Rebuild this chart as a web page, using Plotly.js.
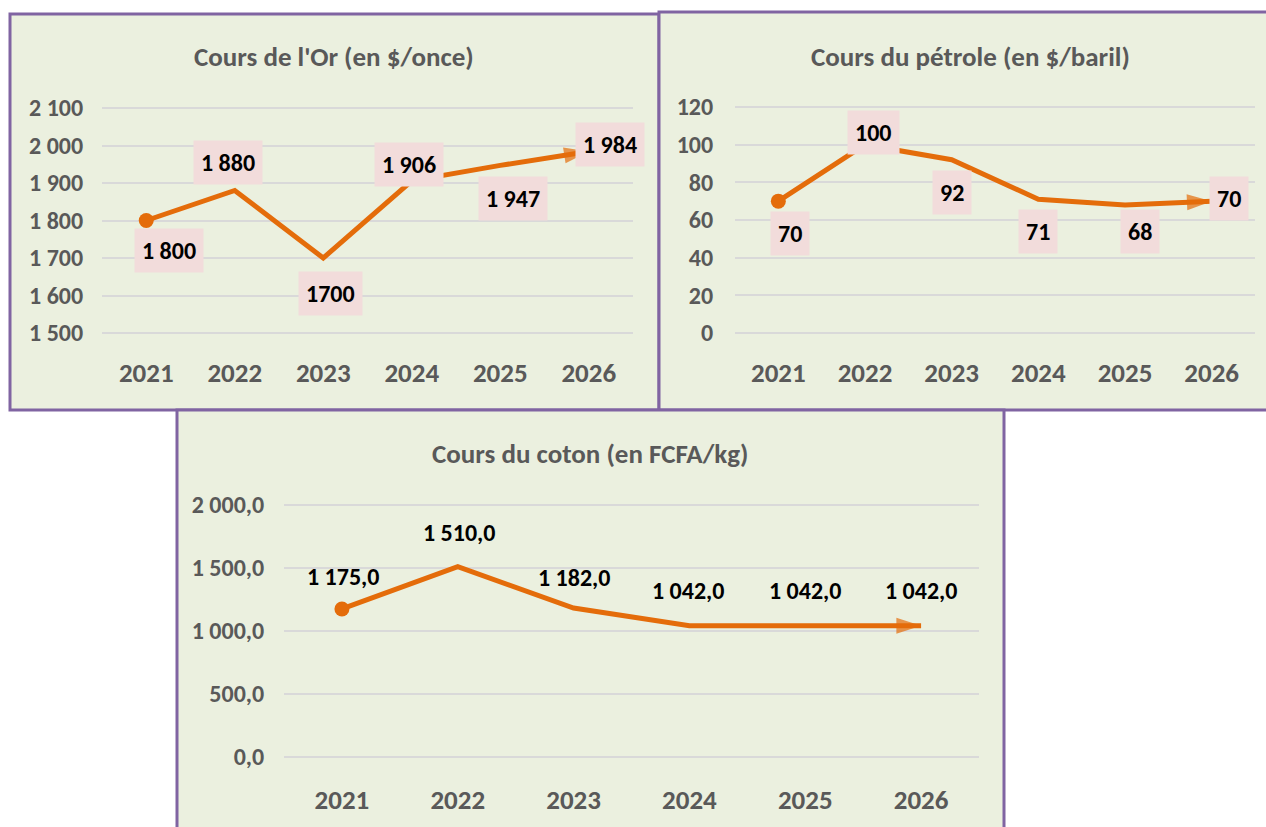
<!DOCTYPE html>
<html><head><meta charset="utf-8">
<script src="https://cdn.plot.ly/plotly-3.0.1.min.js"></script>
<style>html,body{margin:0;padding:0;background:#fff;}#chart{width:1266px;height:827px;}</style>
</head><body><div id="chart"></div>
<script>
// ---- data ----
const years = ["2021","2022","2023","2024","2025","2026"];
const goldValues = [1800,1880,1700,1906,1947,1984];
const goldLabels = ["1 800","1 880","1700","1 906","1 947","1 984"];
const goldTicks = [1500,1600,1700,1800,1900,2000,2100];
const oilValues = [70,100,92,71,68,70];
const oilLabels = ["70","100","92","71","68","70"];
const oilTicks = [0,20,40,60,80,100,120];
const cottonValues = [1175,1510,1182,1042,1042,1042];
const cottonLabels = ["1 175,0","1 510,0","1 182,0","1 042,0","1 042,0","1 042,0"];
const cottonTicks = [0,500,1000,1500,2000];
const titles = ["Cours de l'Or (en $/once)","Cours du pétrole (en $/baril)","Cours du coton (en FCFA/kg)"];

// ---- layout helpers ----
const W = 1266, H = 827;
const FONT = "Carlito, Lato, sans-serif";
const ORANGE = "#e46c0a", GRID = "#d9d9d9", GREY = "#595959", BG = "#ebf0df", BORDER = "#8064a2", LBG = "#f2dcdb";
const px = x => x / W, py = y => 1 - y / H;
function yRange(top, bot, vTop, pTop, vBot, pBot) {
  const s = (pBot - pTop) / (vTop - vBot);
  return [vBot - (bot - pBot) / s, vTop + (pTop - top) / s];
}
function xAxis(l, r, anchor, tl) {
  return {domain: [px(l), px(r)], range: [-0.5, 5.5], type: 'category', anchor: anchor,
    showgrid: false, zeroline: false, showline: false, ticks: 'outside', ticklen: tl, tickcolor: 'rgba(0,0,0,0)',
    tickfont: {family: FONT, size: 27, color: GREY, weight: 'bold'}, fixedrange: true};
}
function yAxis(top, bot, rng, ticks, fmt, anchor, stand) {
  return {domain: [py(bot), py(top)], range: rng, anchor: anchor, tickvals: ticks, tickformat: fmt,
    showgrid: true, gridcolor: GRID, gridwidth: 2, zeroline: false, showline: false,
    ticks: 'outside', ticklen: stand, tickcolor: 'rgba(0,0,0,0)',
    tickfont: {family: FONT, size: 24, color: GREY, weight: 'bold'}, fixedrange: true};
}
function traces(vals, xa, ya) {
  const n = vals.length;
  return [
    {x: years, y: vals, xaxis: xa, yaxis: ya, type: 'scatter', mode: 'lines',
      line: {color: ORANGE, width: 5}, hoverinfo: 'skip'},
    {x: [years[0]], y: [vals[0]], xaxis: xa, yaxis: ya, type: 'scatter', mode: 'markers',
      marker: {color: ORANGE, size: 15, symbol: 'circle'}, hoverinfo: 'skip', cliponaxis: false},
    {x: years.slice(n - 2), y: vals.slice(n - 2), xaxis: xa, yaxis: ya, type: 'scatter', mode: 'markers',
      marker: {color: ORANGE, size: [0, 26], symbol: 'arrow', angleref: 'previous', line: {width: 0}},
      hoverinfo: 'skip', cliponaxis: false}
  ];
}

const data = [].concat(
  traces(goldValues, 'x', 'y'),
  traces(oilValues, 'x2', 'y2'),
  traces(cottonValues, 'x3', 'y3')
);

// label offsets (px) relative to each point
const goldOff = [[23,-30],[-7,28],[7,-35],[-3,16],[13,-33],[21,7]];
const oilOff = [[12,-32],[8,12],[0,-33],[0,-32],[15,-27],[17,3]];
const cottonOff = [[1,32],[1,34],[0,31],[-1,35],[0,35],[0,35]];

const annotations = [];
function addLabels(vals, labels, offs, xa, ya, bg) {
  vals.forEach((v, i) => annotations.push({x: i, y: v, xref: xa, yref: ya, text: labels[i],
    showarrow: false, xshift: offs[i][0], yshift: offs[i][1], bgcolor: bg, borderpad: 7,
    font: {family: FONT, size: 24, color: '#000', weight: 'bold'}}));
}
addLabels(goldValues, goldLabels, goldOff, 'x', 'y', LBG);
addLabels(oilValues, oilLabels, oilOff, 'x2', 'y2', LBG);
addLabels(cottonValues, cottonLabels, cottonOff, 'x3', 'y3', 'rgba(0,0,0,0)');
const titlePos = [[334, 56], [970, 56], [590, 453]];
titles.forEach((t, i) => annotations.push({text: t, xref: 'paper', yref: 'paper', x: px(titlePos[i][0]), y: py(titlePos[i][1]),
  showarrow: false, xanchor: 'center', yanchor: 'middle', font: {family: FONT, size: 27, color: GREY, weight: 'bold'}}));

const panel = (x0, y0, x1, y1) => ({type: 'rect', xref: 'paper', yref: 'paper', x0: px(x0), x1: px(x1), y0: py(y1), y1: py(y0),
  fillcolor: BG, line: {color: BORDER, width: 3}, layer: 'below'});

const layout = {
  width: W, height: H, margin: {l: 0, r: 0, t: 0, b: 0}, paper_bgcolor: '#ffffff', plot_bgcolor: 'rgba(0,0,0,0)',
  showlegend: false, separators: ', ', font: {family: FONT},
  shapes: [panel(10, 14, 659, 410), panel(659, 12, 1268, 410), panel(177, 410, 1004, 830)],
  xaxis: xAxis(102, 633, 'y', 4),
  yaxis: yAxis(98, 345, yRange(98, 345, 2100, 108, 1500, 333), goldTicks, ',d', 'x', 13),
  xaxis2: xAxis(735, 1255, 'y2', 4),
  yaxis2: yAxis(98, 345, yRange(98, 345, 120, 107, 0, 333), oilTicks, 'd', 'x2', 16),
  xaxis3: xAxis(284, 979, 'y3', 6),
  yaxis3: yAxis(495, 770, yRange(495, 770, 2000, 505, 0, 757), cottonTicks, ',.1f', 'x3', 14),
  annotations: annotations
};
Plotly.newPlot('chart', data, layout, {displayModeBar: false, staticPlot: true});
</script></body></html>
